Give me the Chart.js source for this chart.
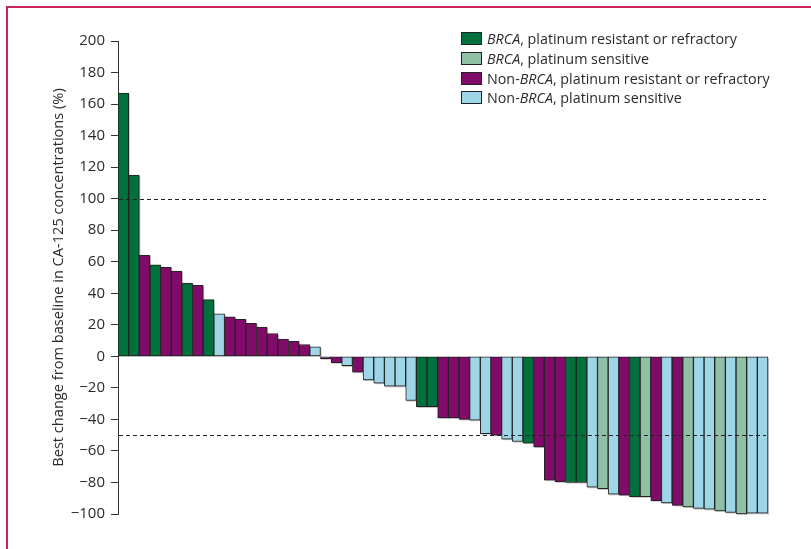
<!DOCTYPE html>
<html>
<head>
<meta charset="utf-8">
<script src="https://cdn.jsdelivr.net/npm/chart.js@4"></script>
<style>
  html, body { margin: 0; padding: 0; background: #fff; }
  #wrap { position: relative; width: 811px; height: 549px; }
  #frame { position: absolute; left: 6px; top: 6px; right: 0; bottom: 0;
           border-left: 2px solid #c8235f; border-top: 2px solid #c8235f; pointer-events: none; }
  #legend { position: absolute; left: 461px; top: 29px; font-family: "Open Sans", sans-serif;
            font-size: 14.3px; color: #2b2b2b; }
  #legend .row { display: flex; align-items: center; height: 19.7px; white-space: nowrap; }
  #legend .box { width: 19px; height: 11px; border: 1px solid #222; margin-right: 5px; flex: none; }
</style>
</head>
<body>
<div id="wrap">
  <canvas id="ca125_chart" width="811" height="549"></canvas>
  <div id="frame"></div>
  <div id="legend"></div>
</div>
<script>
// best change in CA-125 per patient, sorted high to low
var changeValues = [
  167, 115, 64, 58, 56.5, 54, 46.5, 45, 36, 27,
  25, 23.5, 21, 18.5, 14.5, 11, 9.5, 7.5, 6, -1.5,
  -4, -6, -10, -15, -17, -19, -19, -28, -32, -32,
  -39, -39, -40, -40.5, -49, -50, -52.5, -54, -55, -57.5,
  -78.5, -79.5, -80, -80, -83, -84, -87.5, -88, -89, -89,
  -91.5, -93, -94.5, -95.5, -96.5, -97, -98, -99, -100, -99.5,
  -99.5
]

// subgroup of each patient (index into groupLabels)
var patientGroups = [
  0, 0, 2, 0, 2, 2, 0, 2, 0, 3,
  2, 2, 2, 2, 2, 2, 2, 2, 3, 2,
  2, 3, 2, 3, 3, 3, 3, 3, 0, 0,
  2, 2, 2, 3, 3, 2, 3, 3, 0, 2,
  2, 2, 0, 0, 3, 1, 3, 2, 0, 1,
  2, 3, 2, 1, 3, 3, 1, 3, 1, 3,
  3
]

var groupLabels = [
  ['', 'BRCA', ', platinum resistant or refractory'],
  ['', 'BRCA', ', platinum sensitive'],
  ['Non-', 'BRCA', ', platinum resistant or refractory'],
  ['Non-', 'BRCA', ', platinum sensitive']
]
var groupColors = ['#00703c', '#8fbfa5', '#800b69', '#9ed6e8']

var yTicks = { min: -100, max: 200, step: 20 }
var refLines = [100, -50]

// legend, with BRCA set in italics
var legend = document.getElementById('legend')
groupLabels.forEach(function(parts, i) {
  var row = document.createElement('div')
  row.className = 'row'
  row.innerHTML = '<span class="box" style="background:' + groupColors[i] + '"></span>' +
    '<span>' + parts[0] + '<i>' + parts[1] + '</i>' + parts[2] + '</span>'
  legend.appendChild(row)
})

var labels = []
for (let i = 0; i < changeValues.length; i++) {
  labels.push((i + 1).toString())
}

// grey drop shadow behind each bar
var barShadow = {
  id: 'barShadow',
  beforeDatasetsDraw: function(chart) {
    var ctx = chart.ctx
    ctx.save()
    ctx.fillStyle = 'rgba(0,0,0,0.28)'
    chart.getDatasetMeta(0).data.forEach(function(bar) {
      var p = bar.getProps(['x', 'y', 'base', 'width'], true)
      var top = Math.min(p.y, p.base)
      var h = Math.abs(p.y - p.base)
      ctx.fillRect(p.x - p.width / 2 + 1, top + 1, p.width, h)
    })
    ctx.restore()
  }
}

// dashed reference lines
var dashedLines = {
  id: 'dashedLines',
  afterDatasetsDraw: function(chart) {
    var ctx = chart.ctx
    var area = chart.chartArea
    var yScale = chart.scales.y
    ctx.save()
    ctx.strokeStyle = '#222'
    ctx.lineWidth = 1
    ctx.setLineDash([4, 3])
    refLines.forEach(function(v) {
      var y = Math.round(yScale.getPixelForValue(v)) + 0.5
      ctx.beginPath()
      ctx.moveTo(area.left + 1, y)
      ctx.lineTo(area.right - 2, y)
      ctx.stroke()
    })
    ctx.restore()
  }
}

var chart_element = document.getElementById('ca125_chart').getContext('2d')
var myChart = new Chart(chart_element, {
  type: 'bar',
  data: {
    labels: labels,
    datasets: [{
      data: changeValues,
      backgroundColor: patientGroups.map(function(g) { return groupColors[g] }),
      borderColor: '#222',
      borderWidth: 1,
      borderSkipped: false,
      barPercentage: 1,
      categoryPercentage: 1
    }]
  },
  options: {
    responsive: false,
    animation: false,
    layout: { padding: { left: 50, top: 41, right: 43, bottom: 35 } },
    plugins: {
      legend: { display: false },
      tooltip: { enabled: false }
    },
    scales: {
      x: { display: false },
      y: {
        min: yTicks.min,
        max: yTicks.max,
        afterFit: function(scale) { scale.width = 68 },
        border: { display: true, color: '#333', width: 1 },
        grid: { drawOnChartArea: false, tickLength: 7, color: '#333' },
        ticks: {
          stepSize: yTicks.step,
          padding: 6,
          color: '#2b2b2b',
          font: { family: 'Open Sans', size: 15 },
          callback: function(value) {
            return value < 0 ? '\u2212' + Math.abs(value) : value.toString()
          }
        },
        title: {
          display: true,
          text: 'Best change from baseline in CA-125 concentrations (%)',
          color: '#2b2b2b',
          font: { family: 'Open Sans', size: 14.6 },
          padding: 0
        }
      }
    }
  },
  plugins: [barShadow, dashedLines]
})
</script>
</body>
</html>
